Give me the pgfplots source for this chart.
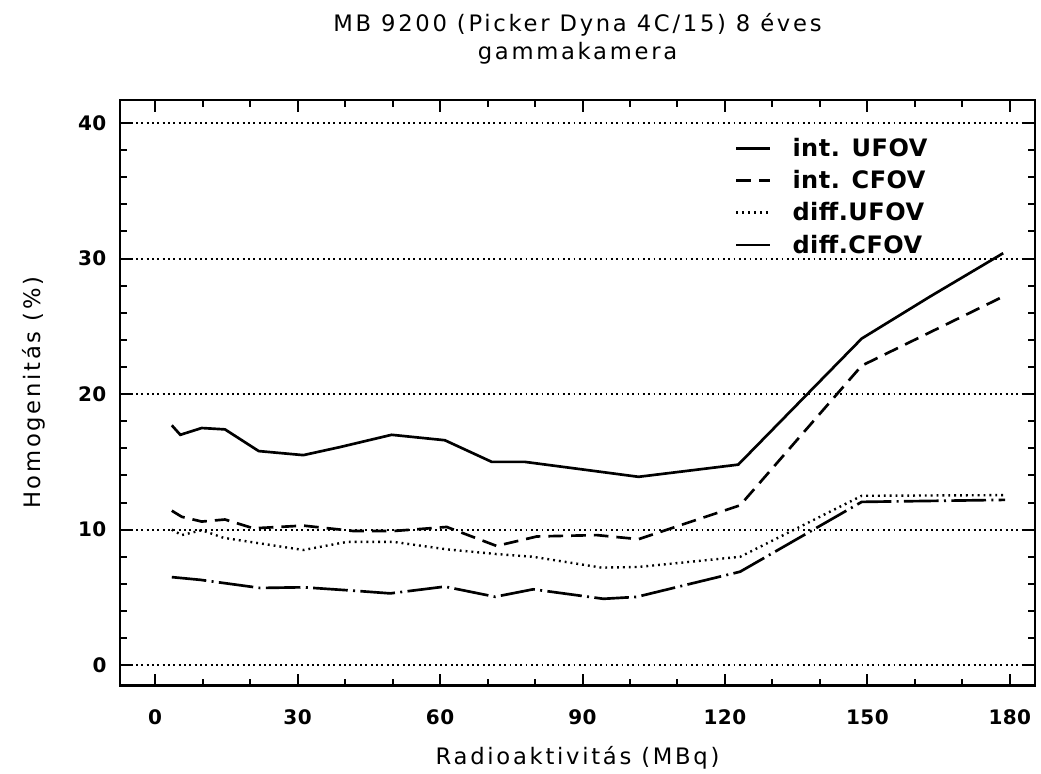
\documentclass[border=0pt]{standalone}
\usepackage{fontspec}
\setmainfont{DejaVu Sans}[LetterSpace=12]
\newfontfamily\tickfont{DejaVu Sans}[LetterSpace=2]
\usepackage{pgfplots}
\pgfplotsset{compat=1.18}

\begin{document}
\begin{tikzpicture}
  \begin{axis}[
      scale only axis,
      width=686pt, height=439pt,
      xmin=-7.4, xmax=185.3,
      ymin=-1.5, ymax=41.7,
      xtick={0,30,...,180},
      ytick={0,10,...,40},
      minor x tick num=2,
      minor y tick num=4,
      tick align=inside,
      major tick length=9pt,
      minor tick length=5pt,
      tick style={black, line width=1.5pt},
      axis line style={line width=2pt},
      ymajorgrids,
      grid style={black, line width=1.4pt, dash pattern=on 1.4pt off 2.6pt},
      /pgf/number format/assume math mode=true,
      ticklabel style={font=\tickfont\bfseries\fontsize{15}{18}\selectfont},
      xticklabel style={anchor=center, yshift=-24pt},
      yticklabel style={anchor=east, inner sep=0pt, xshift=-10pt},
      title={MB 9200 (Picker Dyna 4C/15) 8 éves\\gammakamera},
      title style={align=center, font=\fontsize{17}{21}\selectfont,
        at={(rel axis cs:0.5,1)}, anchor=center, yshift=40pt},
      xlabel={Radioaktivitás (MBq)},
      ylabel={Homogenitás (\%)},
      label style={font=\fontsize{17}{20}\selectfont},
      xlabel style={at={(rel axis cs:0.5,0)}, anchor=center, yshift=-54pt},
      ylabel style={at={(rel axis cs:0,0.5)}, anchor=center, yshift=65pt},
      legend cell align=left,
      legend style={draw=none, fill=none, at={(0.672,0.94)}, anchor=north west,
        font=\tickfont\bfseries\fontsize{18}{21}\selectfont, row sep=5pt,
        column sep=14pt, inner sep=0pt},
      legend image code/.code={\draw[#1] (0pt,0pt) -- (25pt,0pt);},
      every axis plot/.append style={black, line width=2pt},
    ]

    % int. UFOV
    \addplot[solid] coordinates {
      (3.5,17.7) (5.3,17.0) (9.8,17.5) (14.7,17.4) (21.8,15.8) (31.2,15.5)
      (39,16.1) (49.8,17.0) (61,16.6) (70.9,15.0) (77.9,15.0) (88.8,14.5)
      (101.8,13.9) (122.8,14.8) (148.8,24.1) (163.2,27.2) (178.6,30.4)
    };
    % int. CFOV
    \addplot[dash pattern=on 11pt off 6pt] coordinates {
      (3.5,11.4) (5.6,10.95) (9.8,10.6) (14.7,10.75) (20.7,10.1) (31.2,10.3)
      (41.8,9.9) (50.2,9.9) (61.4,10.2) (71.9,8.8) (80.4,9.5) (93,9.6)
      (101.8,9.3) (123.2,11.8) (148.8,22.1) (178.6,27.2)
    };
    % diff. UFOV
    \addplot[line width=1.8pt, dash pattern=on 1.4pt off 3pt] coordinates {
      (3.5,10.0) (5.6,9.6) (9.8,9.96) (14.4,9.4) (31.2,8.5) (40.4,9.1)
      (50.2,9.1) (61.4,8.55) (71.9,8.2) (79.6,8.0) (94,7.2) (101.8,7.25)
      (123.2,8.0) (148.8,12.5) (179,12.55)
    };
    % diff. CFOV
    \addplot[dash pattern=on 26pt off 4pt on 1.5pt off 4pt] coordinates {
      (3.5,6.5) (9.5,6.3) (22.1,5.7) (31.2,5.75) (41.8,5.5) (49.5,5.3)
      (61,5.8) (71.6,5.05) (79.6,5.6) (94.4,4.9) (101.4,5.04) (123.2,6.9)
      (148.8,12.05) (179,12.2)
    };
    \legend{int. UFOV, int. CFOV, diff.UFOV, diff.CFOV}

    \coordinate (sw) at (rel axis cs:0,0);
    \coordinate (ne) at (rel axis cs:1,1);
  \end{axis}
  \pgfresetboundingbox
  \path ([shift={(-90pt,-66pt)}]sw) rectangle ([shift={(4.5pt,75pt)}]ne);
\end{tikzpicture}
\end{document}
